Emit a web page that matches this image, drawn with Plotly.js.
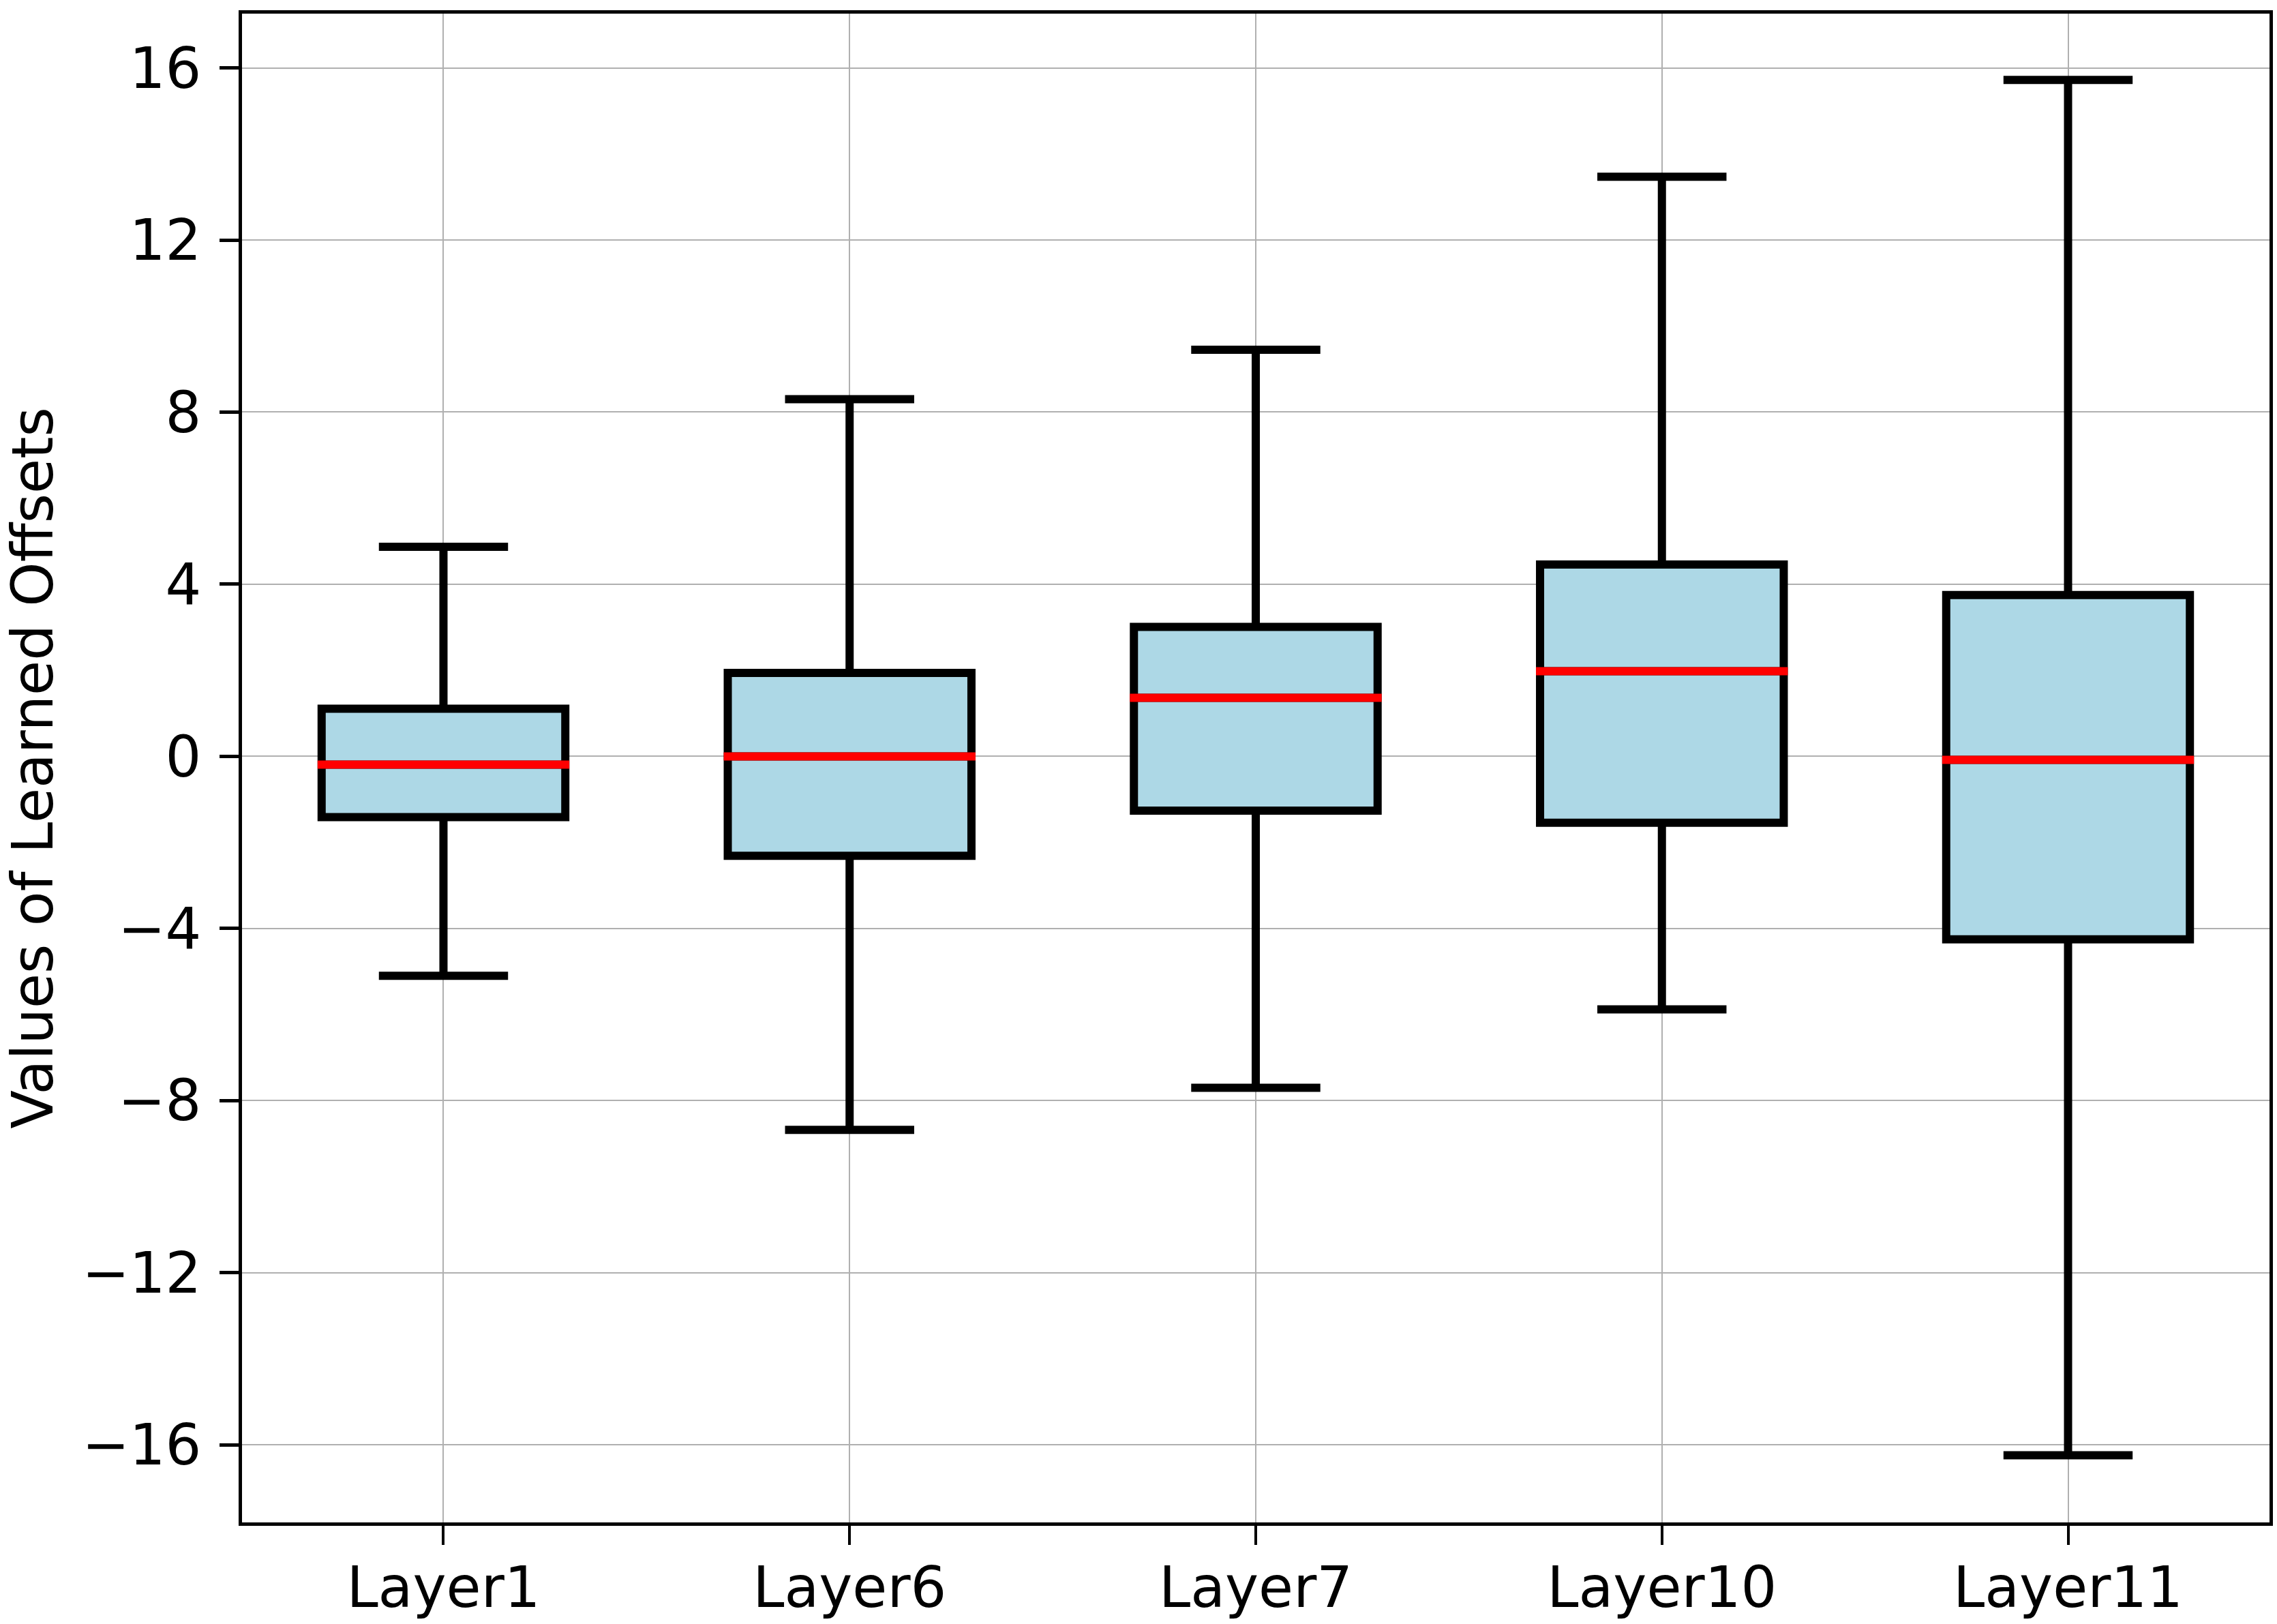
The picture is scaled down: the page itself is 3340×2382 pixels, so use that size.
<!DOCTYPE html>
<html>
<head>
<meta charset="utf-8">
<script src="https://cdn.plot.ly/plotly-3.0.1.min.js"></script>
<style>
  html, body { margin: 0; padding: 0; background: #ffffff; }
  #chart { width: 3340px; height: 2382px; }
</style>
</head>
<body>
<div id="chart"></div>
<script>
// ---- data ----
const categories  = ['Layer1', 'Layer6', 'Layer7', 'Layer10', 'Layer11'];
const upperWhisker = [4.87, 8.30, 9.45, 13.47, 15.72];
const q3Values     = [1.11, 1.94, 3.01, 4.46, 3.75];
const medianValues = [-0.19, 0.00, 1.36, 1.98, -0.08];
const q1Values     = [-1.41, -2.31, -1.26, -1.54, -4.25];
const lowerWhisker = [-5.10, -8.68, -7.70, -5.88, -16.24];
const yTickValues  = [-16, -12, -8, -4, 0, 4, 8, 12, 16];
const yTickLabels  = ['\u221216', '\u221212', '\u22128', '\u22124', '0', '4', '8', '12', '16'];

// ---- styling ----
const FONT = 'DejaVu Sans, Liberation Sans, sans-serif';
const FS = 83;
const BOX_W = 0.6;
const LINE_W = 12;
const positions = categories.map((_, i) => i);

const boxTrace = {
  type: 'box',
  x: positions,
  q1: q1Values,
  median: medianValues,
  q3: q3Values,
  lowerfence: lowerWhisker,
  upperfence: upperWhisker,
  width: BOX_W,
  whiskerwidth: 0.53,
  boxpoints: false,
  fillcolor: '#ADD8E6',
  line: { color: '#000000', width: LINE_W },
  hoverinfo: 'skip',
  showlegend: false
};

// red median lines, positioned from the data via the axes
const medianShapes = medianValues.map((m, i) => ({
  type: 'line',
  xref: 'x', yref: 'y',
  x0: positions[i] - BOX_W / 2 - 0.01,
  x1: positions[i] + BOX_W / 2 + 0.01,
  y0: m, y1: m,
  line: { color: '#FF0000', width: LINE_W },
  layer: 'above'
}));

const layout = {
  width: 3340,
  height: 2382,
  margin: { l: 355, r: 11, t: 20, b: 149, pad: 0 },
  paper_bgcolor: '#ffffff',
  plot_bgcolor: '#ffffff',
  font: { family: FONT, size: FS, color: '#000000' },
  showlegend: false,
  xaxis: {
    range: [-0.496, 4.496],
    tickmode: 'array',
    tickvals: positions,
    ticktext: categories,
    ticks: 'outside',
    ticklen: 28,
    tickwidth: 4,
    tickcolor: '#000000',
    showline: true,
    linewidth: 5,
    linecolor: '#000000',
    mirror: true,
    showgrid: true,
    gridcolor: '#b0b0b0',
    gridwidth: 2,
    zeroline: false,
    tickfont: { family: FONT, size: FS, color: '#000000' },
    ticklabelstandoff: -9,
    automargin: false,
    fixedrange: true
  },
  yaxis: {
    range: [-17.80, 17.26],
    tickmode: 'array',
    tickvals: yTickValues,
    ticktext: yTickLabels,
    ticks: 'outside',
    ticklen: 28,
    tickwidth: 5,
    tickcolor: '#000000',
    showline: true,
    linewidth: 5,
    linecolor: '#000000',
    mirror: true,
    showgrid: true,
    gridcolor: '#b0b0b0',
    gridwidth: 2,
    zeroline: false,
    tickfont: { family: FONT, size: FS, color: '#000000' },
    ticklabelstandoff: 10,
    title: {
      text: 'Values of Learned Offsets',
      font: { family: FONT, size: FS, color: '#000000' },
      standoff: 40
    },
    automargin: false,
    fixedrange: true
  },
  shapes: medianShapes
};

Plotly.newPlot('chart', [boxTrace], layout, { staticPlot: true, displayModeBar: false });
</script>
</body>
</html>
